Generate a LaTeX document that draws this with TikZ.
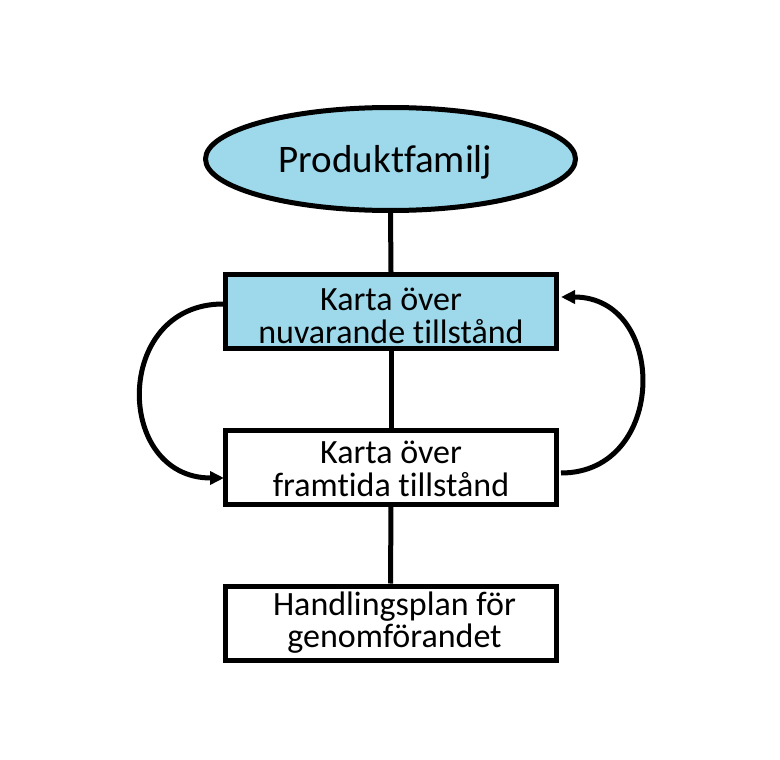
\documentclass[tikz,border=0pt]{standalone}
\usepackage{fontspec}
\setmainfont[Ligatures=CommonOff]{Carlito}
\usetikzlibrary{shapes.geometric,arrows.meta}
\definecolor{lblue}{RGB}{157,217,234}
\newcommand{\twolines}[3]{\raisebox{0pt}[20pt][#1pt]{\begin{tabular}[t]{@{}c@{}}#2\\#3\end{tabular}}}
\begin{document}
\begin{tikzpicture}[x=1pt,y=-1pt,
  lw/.style={line width=5pt},
  boxnode/.style={draw,lw,minimum width=331pt,minimum height=74pt,inner sep=0pt,
    font=\fontsize{34}{30}\selectfont},
  ovalnode/.style={draw,lw,ellipse,fill=lblue,minimum width=370pt,minimum height=103pt,inner sep=0pt,
    text height=26pt,text depth=0pt,font=\fontsize{39}{44}\selectfont},
  link/.style={lw},
  loop/.style={lw,-{Triangle[length=14pt,width=13pt]}}]
\useasboundingbox (0,0) rectangle (780,760);
\fill[white] (0,0) rectangle (780,760);
\node[ovalnode] (pf) at (390.5,159) {Produktfamilj\hspace*{10pt}};
\node[boxnode,fill=lblue] (b1) at (391,311.5) {\twolines{23}{Karta över}{nuvarande tillstånd}};
\node[boxnode] (b2) at (391,467) {\twolines{28}{Karta över}{framtida tillstånd}};
\node[boxnode] (b3) at (390.5,623) {\hspace*{8pt}\twolines{36}{Handlingsplan för}{genomförandet}};
\draw[link] (pf.south) -- (b1.north);
\draw[link] (b1.south) -- (b2.north);
\draw[link] (b2.south) -- (b3.north);
\draw[loop] ([yshift=7.5pt]b1.west) .. controls +(-110,0) and +(-110,0) .. ([yshift=-11pt,xshift=1pt]b2.west);
\draw[loop] ([yshift=-6pt,xshift=2pt]b2.east) .. controls +(107,0) and +(107,0) .. ([yshift=14.5pt,xshift=2pt]b1.east);
\end{tikzpicture}
\end{document}
